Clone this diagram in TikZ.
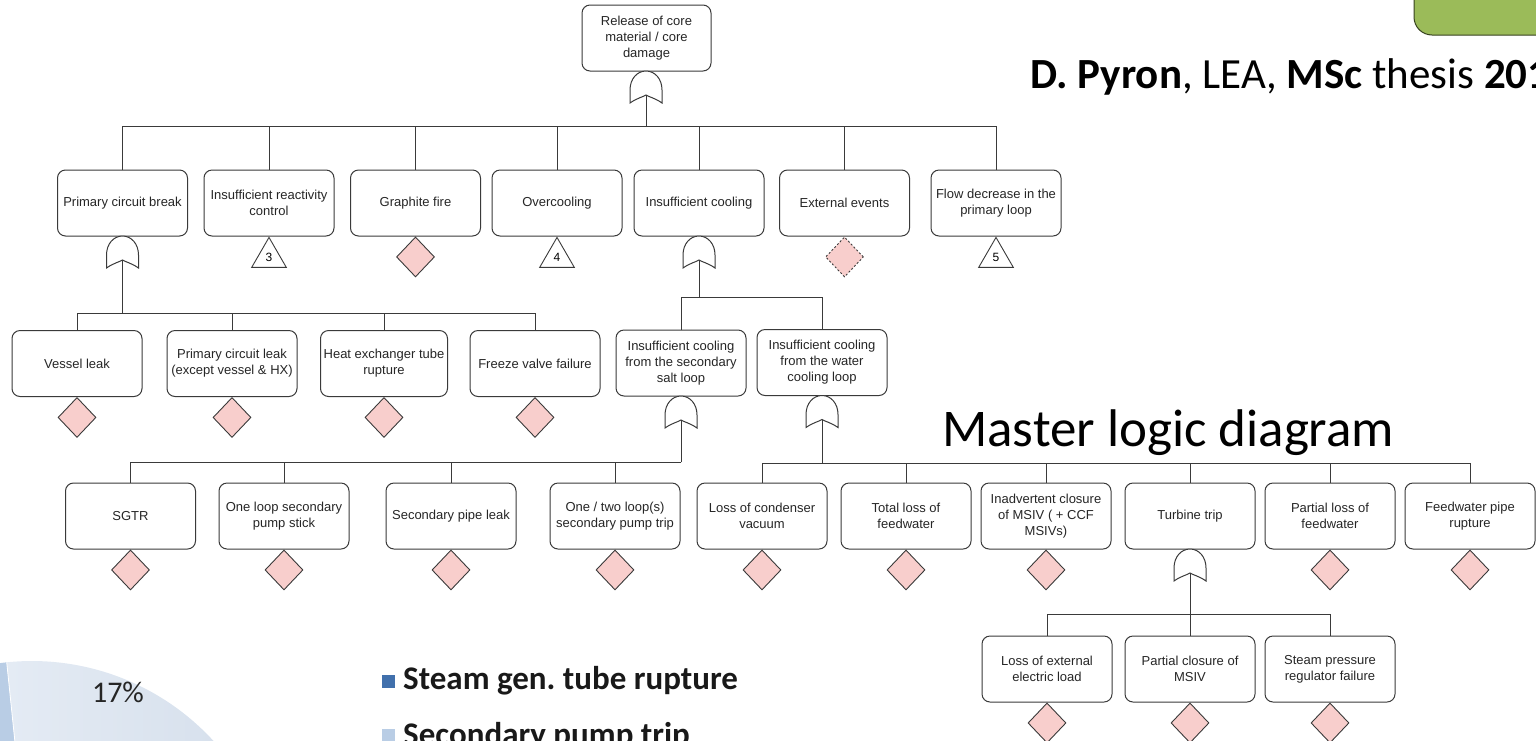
\documentclass[tikz,border=0pt]{standalone}
\usepackage{fontspec}
\setmainfont{Liberation Sans}
\newfontfamily\calfont{Carlito}
\usetikzlibrary{shapes.geometric}
\frenchspacing
\definecolor{evpink}{HTML}{F8CECC}
\definecolor{lineg}{HTML}{3A3A3A}
\definecolor{slidegreen}{HTML}{9BBB59}
\definecolor{pielightL}{HTML}{E4EBF4}
\definecolor{pielightR}{HTML}{D4DEEB}
\definecolor{piedark}{HTML}{B9CDE5}
\definecolor{legdark}{HTML}{4170AC}
\tikzset{
  box/.style={draw=lineg, line width=1pt, rounded corners=8pt, fill=white,
    minimum width=130pt, minimum height=66pt, align=center, inner sep=1pt,
    font=\fontsize{13}{16}\selectfont, text=black!85},
  ev/.style={diamond, draw=lineg, line width=0.9pt, fill=evpink,
    minimum width=38pt, minimum height=40pt, inner sep=0pt},
  evdash/.style={ev, dash pattern=on 2pt off 2pt},
  tri/.style={regular polygon, regular polygon sides=3, draw=lineg, line width=0.9pt,
    minimum size=40pt, inner sep=0pt, font=\fontsize{12}{12}\selectfont},
  conn/.style={draw=lineg, line width=1pt},
  gateline/.style={draw=lineg, line width=1pt, fill=white},
  orgate/.pic={
    \draw[gateline] (-16,32) -- (-16,19) .. controls (-16,8) and (-9,0) .. (0,0)
      .. controls (9,0) and (16,8) .. (16,19) -- (16,32)
      .. controls (9,27) and (3,26) .. (0,24)
      .. controls (-3,26) and (-9,27) .. (-16,32) -- cycle;
    \coordinate (-out) at (0,24);
  }
}
\begin{document}
\begin{tikzpicture}[x=1pt,y=-1pt]
\useasboundingbox (0,0) rectangle (1536,740);
\clip (0,0) rectangle (1536,740);

% ---------- slide decorations ----------
\draw[draw=black!65!slidegreen, line width=1pt, fill=slidegreen, rounded corners=18pt]
  (1414,-40) rectangle (1600,35);
\node[anchor=base west, font=\calfont\fontsize{43}{48}\selectfont, inner sep=0pt] (cite) at (1030,88)
  {\textbf{D. Pyron}, LEA, \textbf{MSc} thesis \textbf{2016}};
\node[anchor=base west, font=\calfont\fontsize{53}{60}\selectfont, inner sep=0pt] (title) at (942,446)
  {Master logic diagram};

% pie chart fragment
\begin{scope}[shift={(32,907)}, y=1pt]
  \fill[piedark] (0,0) -- (150:246) arc[start angle=150, end angle=95.9, radius=246] -- cycle;
  \shade[left color=pielightL, right color=pielightR] (0,0) -- (95.9:246)
    arc[start angle=95.9, end angle=0, radius=246] -- cycle;
  \draw[white, line width=0.8pt] (0,0) -- (95.9:246);
\end{scope}
\node[anchor=base, font=\calfont\fontsize{30}{36}\selectfont, text=black!85, inner sep=0pt] (pct) at (118,702) {17\%};

% legend
\fill[legdark] (382,675) rectangle (395,688);
\node[anchor=base west, font=\calfont\bfseries\fontsize{33}{40}\selectfont, text=black!90, inner sep=0pt] (leg1) at (403,689) {Steam gen. tube rupture};
\fill[piedark] (382,729) rectangle (395,742);
\node[anchor=base west, font=\calfont\bfseries\fontsize{33}{40}\selectfont, text=black!90, inner sep=0pt] (leg2) at (403,745) {Secondary pump trip};

% ---------- fault tree ----------
\node[box, minimum width=129pt] (R) at (646.5,38) {Release of core\\material / core\\damage};
\pic (g0) at (646,71) {orgate};
\coordinate (j0) at (646,126);
\draw[conn] (g0-out) -- (j0);

% level 1
\node[box] (P1) at (122.5,203) {Primary circuit break};
\node[box] (P2) at (269,203) {Insufficient reactivity\\control};
\node[box] (P3) at (415.5,203) {Graphite fire};
\node[box] (P4) at (557,203) {Overcooling};
\node[box] (P5) at (699,203) {Insufficient cooling};
\node[box] (P6) at (844.5,203) {External events};
\node[box] (P7) at (996,203) {Flow decrease in the\\primary loop};
\foreach \n in {P1,P2,P3,P4,P5,P6,P7} \draw[conn] (j0) -| (\n.north);

\pic (g1) at (122.5,236) {orgate};
\node[tri, anchor=north] (t3) at (P2.south) {3};
\node[ev, anchor=north] (d3) at (P3.south) {};
\node[tri, anchor=north] (t4) at (P4.south) {4};
\pic (g5) at (699,236) {orgate};
\node[evdash, anchor=north] (d6) at (P6.south) {};
\node[tri, anchor=north] (t5) at (P7.south) {5};

% level 2 under primary circuit break
\coordinate (j1) at (122.5,313);
\draw[conn] (g1-out) -- (j1);
\node[box] (V1) at (77,363.5) {Vessel leak};
\node[box] (V2) at (232,363.5) {Primary circuit leak\\(except vessel \& HX)};
\node[box, minimum width=127pt] (V3) at (384,363.5) {Heat exchanger tube\\rupture};
\node[box] (V4) at (535,363.5) {Freeze valve failure};
\foreach \n in {V1,V2,V3,V4} {
  \draw[conn] (j1) -| (\n.north);
  \node[ev, anchor=north] (d\n) at (\n.south) {};
}

% level 2 under insufficient cooling
\coordinate (j5) at (699,297);
\draw[conn] (g5-out) -- (j5);
\node[box] (W1) at (681,363) {Insufficient cooling\\from the secondary\\salt loop};
\node[box] (W2) at (822,362.5) {Insufficient cooling\\from the water\\cooling loop};
\foreach \n in {W1,W2} \draw[conn] (j5) -| (\n.north);
\pic (gw1) at (681,396) {orgate};
\pic (gw2) at (822,395.5) {orgate};

% level 3, secondary salt loop
\coordinate (jw1) at (681,462);
\draw[conn] (gw1-out) -- (jw1);
\node[box] (S1) at (130.5,516) {SGTR};
\node[box] (S2) at (284,516) {One loop secondary\\pump stick};
\node[box] (S3) at (451,516) {Secondary pipe leak};
\node[box] (S4) at (615,516) {One / two loop(s)\\secondary pump trip};
\foreach \n in {S1,S2,S3,S4} {
  \draw[conn] (jw1) -| (\n.north);
  \node[ev, anchor=north] (d\n) at (\n.south) {};
}

% level 3, water cooling loop
\coordinate (jw2) at (822,463);
\draw[conn] (gw2-out) -- (jw2);
\node[box] (T1) at (762,516) {Loss of condenser\\vacuum};
\node[box] (T2) at (906,516) {Total loss of\\feedwater};
\node[box] (T3) at (1046,516) {Inadvertent closure\\of MSIV ( + CCF\\MSIVs)};
\node[box] (T4) at (1190,516) {Turbine trip};
\node[box] (T5) at (1330,516) {Partial loss of\\feedwater};
\node[box] (T6) at (1470,516) {Feedwater pipe\\rupture};
\foreach \n in {T1,T2,T3,T4,T5,T6} \draw[conn] (jw2) -| (\n.north);
\foreach \n in {T1,T2,T3,T5,T6} \node[ev, anchor=north] (d\n) at (\n.south) {};
\pic (gt4) at (1190,549) {orgate};

% level 4, turbine trip
\coordinate (jt4) at (1190,614);
\draw[conn] (gt4-out) -- (jt4);
\node[box] (U1) at (1047,669) {Loss of external\\electric load};
\node[box] (U2) at (1190,669) {Partial closure of\\MSIV};
\node[box] (U3) at (1330,669) {Steam pressure\\regulator failure};
\foreach \n in {U1,U2,U3} {
  \draw[conn] (jt4) -| (\n.north);
  \node[ev, anchor=north] (d\n) at (\n.south) {};
}
\end{tikzpicture}
\end{document}
